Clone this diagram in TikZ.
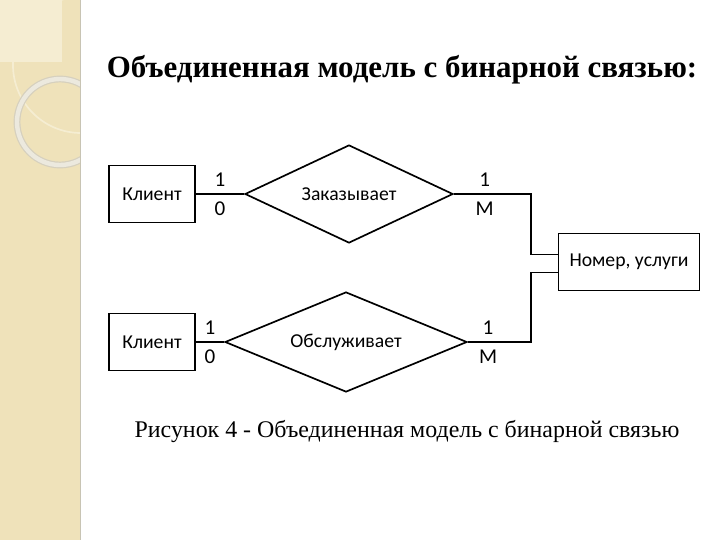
\documentclass[tikz,border=0pt]{standalone}
\usepackage{fontspec}
\setmainfont{Liberation Serif}
\newfontfamily\diagfont{Carlito}
\usetikzlibrary{shapes.geometric}
\definecolor{strip}{RGB}{239,226,186}
\definecolor{striplight}{RGB}{245,237,210}
\definecolor{ringedge}{RGB}{214,208,190}
\definecolor{ringfill}{RGB}{236,233,222}
\definecolor{stripline}{RGB}{200,196,180}

\begin{document}
\begin{tikzpicture}[x=0.025cm, y=-0.025cm,
    every node/.style = {align=center},
    entity/.style = {shape=rectangle, draw, line width=1.2pt,
                     minimum width=2.15cm, minimum height=1.42cm,
                     font=\diagfont\fontsize{14}{16}\selectfont},
    relation/.style = {shape=diamond, draw, line width=1.2pt, inner sep=0pt,
                       font=\diagfont\fontsize{14}{16}\selectfont},
    card/.style = {font=\diagfont\fontsize{15}{17}\selectfont, inner sep=0pt},
    link/.style = {line width=1.2pt}]
  \useasboundingbox (0,0) rectangle (720,540);
  \fill[white] (0,0) rectangle (720,540);
  % slide strip
  \begin{scope}
    \clip (0,0) rectangle (80,540);
    \fill[strip] (0,0) rectangle (80,540);
    \fill[striplight] (0,0) rectangle (62,62);
    \draw[striplight, line width=1.2pt] (81,65) circle[radius=68];
    \draw[ringedge, line width=0.17cm] (60,122) circle[radius=43];
    \draw[ringfill, line width=0.11cm] (60,122) circle[radius=43];
  \end{scope}
  \draw[stripline, line width=0.6pt] (80,0) -- (80,540);

  \node[font=\bfseries\fontsize{22}{26}\selectfont] (title) at (402,70)
    {Объединенная модель с бинарной связью:};

  \node[entity] (k1) at (152,194) {Клиент};
  \node[relation, shape aspect=2.1, minimum width=5.2cm, minimum height=2.45cm] (d1) at (349,194) {Заказывает};
  \node[entity, minimum width=3.52cm] (n) at (629,262) {Номер, услуги};
  \node[entity] (k2) at (152,342) {Клиент};
  \node[relation, shape aspect=2.4, minimum width=6.05cm, minimum height=2.5cm] (d2) at (346,342) {Обслуживает};
  \coordinate (j1) at (531,194);
  \coordinate (j2) at (531,342);

  \draw[link] (k1) -- node[card, above=5pt]{1} node[card, below=5pt]{0} (d1);
  \draw[link] (k2) -- node[card, above=5pt]{1} node[card, below=5pt]{0} (d2);
  \draw[link] (d1) -- node[card, pos=0.4, above=5pt]{1} node[card, pos=0.4, below=5pt]{M} (j1) |- ([yshift=1.9mm]n.west);
  \draw[link] (d2) -- node[card, pos=0.32, above=5pt]{1} node[card, pos=0.32, below=5pt]{M} (j2) |- ([yshift=-2.6mm]n.west);

  \node[font=\fontsize{17}{20}\selectfont] (caption) at (407,432)
    {Рисунок 4 - Объединенная модель с бинарной связью};
\end{tikzpicture}
\end{document}
